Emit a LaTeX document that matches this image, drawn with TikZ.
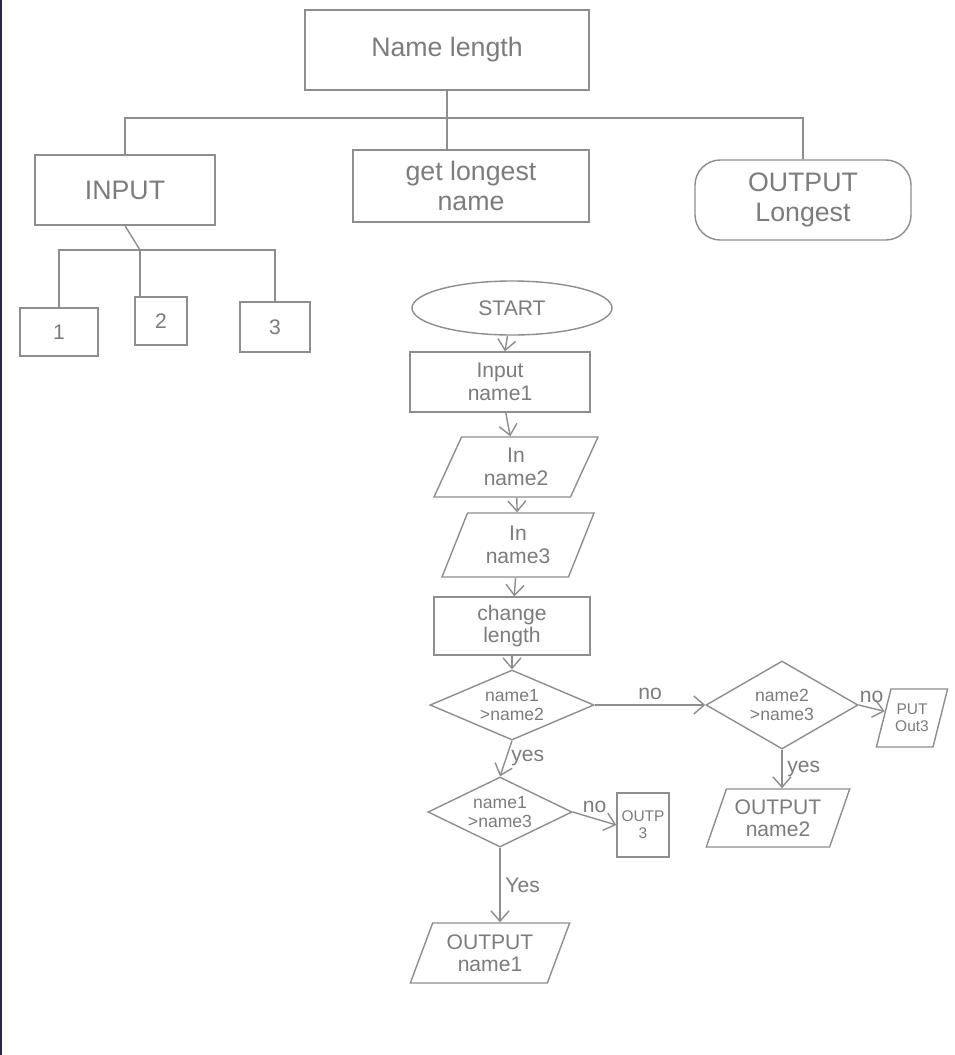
\documentclass[tikz,border=0pt]{standalone}
\usepackage{fontspec}
\setmainfont{Liberation Sans}
\usetikzlibrary{arrows.meta,positioning,shapes.geometric}
\definecolor{pencil}{HTML}{8E8E8E}
\definecolor{lead}{HTML}{7C7C7C}
\definecolor{edge}{HTML}{2B2744}
\tikzset{
  box/.style={draw=pencil, line width=1pt, align=center, inner sep=3pt,
              text=lead, font=\fontsize{15}{16}\selectfont},
  io/.style={box, trapezium, trapezium left angle=68, trapezium right angle=112,
             trapezium stretches=true},
  test/.style={box, diamond, aspect=2.6, inner sep=0pt,
               font=\fontsize{12.5}{13}\selectfont},
  big/.style={font=\fontsize{19}{21}\selectfont},
  tiny/.style={font=\fontsize{11}{12}\selectfont},
  link/.style={draw=pencil, line width=1pt},
  flow/.style={link, -{Straight Barb[length=2.6mm,width=4.5mm]}},
  tag/.style={text=lead, font=\fontsize{15}{16}\selectfont}
}

\begin{document}
\begin{tikzpicture}[x=0.025cm,y=-0.025cm]
  \useasboundingbox (0,0) rectangle (955,1055);
  \fill[white] (0,0) rectangle (955,1055);
  \draw[edge,line width=0.05cm] (1,0) -- (1,1055);

  % structure chart
  \node[box,big,minimum width=7.1cm,minimum height=2cm] (title) at (447,50) {Name length};
  \node[box,big,minimum width=4.5cm,minimum height=1.75cm] (input) at (125,190) {INPUT};
  \node[box,big,minimum width=5.9cm,minimum height=1.8cm] (longest) at (471,186) {get longest\\name};
  \node[box,big,rounded corners=18pt,minimum width=5.4cm,minimum height=2cm] (output) at (803,200) {OUTPUT\\Longest};
  \node[box,minimum width=1.95cm,minimum height=1.2cm] (one) at (59,332) {1};
  \node[box,minimum width=1.3cm,minimum height=1.2cm] (two) at (161,321) {2};
  \node[box,minimum width=1.75cm,minimum height=1.25cm] (three) at (275,327) {3};

  \coordinate (top) at (447,118);
  \coordinate (fork) at (140,250);
  \draw[link] (title) -- (top);
  \draw[link] (input.north) |- (top) -| (output.north);
  \draw[link] (top) -- (top |- longest.north);
  \draw[link] (input.south) -- (fork);
  \draw[link] (one.north) |- (fork) -| (three.north);
  \draw[link] (fork) -- (fork |- two.north);

  % flowchart
  \node[box,ellipse,minimum width=5cm,minimum height=1.35cm] (start) at (512,308) {START};
  \node[box,minimum width=4.5cm,minimum height=1.5cm] (name1) at (500,382) {Input\\name1};
  \node[io,minimum width=4.1cm,minimum height=1.5cm] (name2) at (516,467) {In\\name2};
  \node[io,minimum width=3.8cm,minimum height=1.6cm] (name3) at (518,545) {In\\name3};
  \node[box,minimum width=3.9cm,minimum height=1.45cm] (change) at (512,626) {change\\length};
  \node[test,minimum width=4.1cm,minimum height=1.75cm] (d12) at (512,705) {name1\\>name2};
  \node[test,minimum width=3.8cm,minimum height=2.2cm] (d23) at (782,705) {name2\\>name3};
  \node[io,tiny,minimum width=1.6cm,minimum height=1.45cm] (put3) at (912,718) {PUT\\Out3};
  \node[test,minimum width=3.6cm,minimum height=1.75cm] (d13) at (500,812) {name1\\>name3};
  \node[box,tiny,minimum width=1.3cm,minimum height=1.6cm] (outp3) at (643,825) {OUTP\\3};
  \node[io,minimum width=3.6cm,minimum height=1.45cm] (out2) at (778,818) {OUTPUT\\name2};
  \node[io,minimum width=4cm,minimum height=1.5cm] (out1) at (490,953) {OUTPUT\\name1};

  \draw[flow] (start) -- (name1);
  \draw[flow] (name1) -- (name2);
  \draw[flow] (name2) -- (name3);
  \draw[flow] (name3) -- (change);
  \draw[flow] (change) -- (d12);
  \draw[flow] (d12.east) -- node[tag,above] {no} (d23.west);
  \draw[flow] (d23.east) -- node[tag,above] {no} (put3);
  \draw[flow] (d12.south) -- node[tag,right] {yes} (d13.north);
  \draw[flow] (d13.east) -- node[tag,above] {no} (outp3.west);
  \draw[flow] (d13.south) -- node[tag,right] {Yes} (d13.south |- out1.north);
  \draw[flow] (d23.south) -- node[tag,right] {yes} (d23.south |- out2.north);
\end{tikzpicture}
\end{document}
